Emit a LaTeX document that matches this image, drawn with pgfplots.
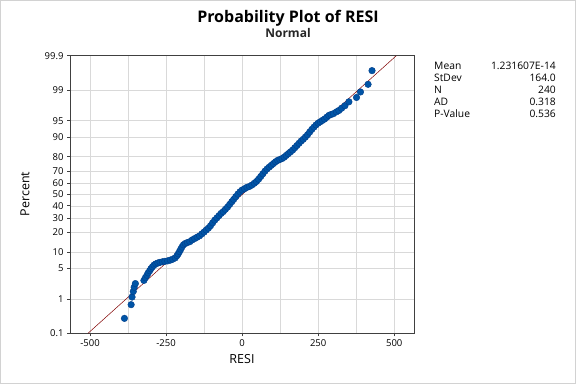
\documentclass[border=0pt]{standalone}
\usepackage{pgfplots}
\pgfplotsset{compat=1.18}
\usepackage{pgfplotstable}
\usepackage{fontspec}
\setmainfont{Open Sans}
\definecolor{ptblue}{RGB}{0,84,166}
\definecolor{ptedge}{RGB}{0,62,138}
\definecolor{fitred}{RGB}{128,0,0}
\definecolor{gridgray}{RGB}{217,217,217}
\definecolor{framegray}{RGB}{64,64,64}
\pgfplotstableread{
x z
-387 -2.758
-365 -2.453
-362 -2.283
-358 -2.160
-355 -2.064
-351 -1.983
-323 -1.913
-318 -1.852
-313 -1.797
-309 -1.745
-304 -1.697
-300 -1.653
-295 -1.611
-290 -1.572
-284 -1.545
-277 -1.525
-270 -1.510
-262 -1.498
-254 -1.488
-245 -1.478
-236 -1.460
-228 -1.440
-220 -1.410
-214 -1.360
-210 -1.320
-206 -1.270
-202 -1.220
-198 -1.170
-193 -1.120
-187 -1.090
-180 -1.070
-172 -1.050
-164 -1.010
-156 -0.980
-148 -0.950
-140 -0.920
-132 -0.875
-125 -0.835
-118 -0.790
-111 -0.750
-104 -0.695
-97 -0.630
-90 -0.570
-83 -0.520
-76 -0.470
-69 -0.420
-62 -0.380
-55 -0.330
-48 -0.280
-41 -0.220
-34 -0.160
-28 -0.110
-21 -0.050
-14 0.010
-7 0.060
0 0.100
8 0.130
16 0.160
24 0.180
32 0.210
40 0.250
47 0.290
54 0.340
61 0.400
68 0.460
75 0.520
82 0.570
89 0.610
96 0.650
103 0.690
110 0.730
117 0.760
124 0.780
131 0.800
138 0.830
145 0.870
152 0.910
159 0.950
166 0.990
173 1.040
180 1.090
187 1.140
194 1.190
201 1.230
208 1.280
215 1.330
222 1.390
229 1.450
236 1.500
243 1.550
250 1.590
257 1.620
264 1.650
271 1.680
278 1.720
285 1.760
292 1.780
300 1.800
310 1.840
318 1.870
327 1.920
338 1.977
351 2.064
376 2.160
389 2.283
414 2.453
427 2.758
}\resdata
\begin{document}
\begin{tikzpicture}[x=1pt,y=1pt]
\useasboundingbox (0pt,0pt) rectangle (576pt,384pt);
\draw[gray!35,line width=1pt] (0.5pt,0.5pt) rectangle (575.5pt,383.5pt);
\begin{axis}[
  at={(70pt,50.7pt)}, anchor=south west,
  scale only axis, width=344pt, height=277.6pt,
  xmin=-566, xmax=565, ymin=-3.0902, ymax=3.0902,
  xtick={-500,-250,0,250,500},
  minor xtick={-375,-125,125,375},
  ytick={-3.0902,-2.3263,-1.6449,-1.2816,-0.8416,-0.5244,-0.2533,0,0.2533,0.5244,0.8416,1.2816,1.6449,2.3263,3.0902},
  yticklabels={0.1,1,5,10,20,30,40,50,60,70,80,90,95,99,99.9},
  xticklabels={-500,-250,0,250,500},
  tick align=outside, tick pos=left,
  major tick length=3pt, minor tick length=0pt,
  grid=both, grid style={gridgray, line width=0.7pt},
  minor grid style={gridgray, line width=0.7pt},
  axis line style={framegray, line width=0.8pt},
  tick style={framegray, line width=0.8pt},
  ticklabel style={font=\fontsize{9.5}{11}\selectfont, text=black},
  /pgf/number format/assume math mode=true,
  clip=true,
]
\addplot[fitred, line width=0.5pt] coordinates {(-506.8,-3.0902) (506.8,3.0902)};
\addplot[only marks, mark=*, mark size=3.3pt, mark options={fill=ptblue, draw=ptedge, line width=0.4pt}] table[x=x,y=z] {\resdata};
\end{axis}
\node[font=\bfseries\fontsize{16}{18}\selectfont] at (288pt,366pt) {Probability Plot of RESI};
\node[font=\bfseries\fontsize{12}{14}\selectfont, text=black!85] at (288pt,351pt) {Normal};
\node[font=\fontsize{12.5}{14}\selectfont] at (242pt,25pt) {RESI};
\node[font=\fontsize{12.5}{14}\selectfont, rotate=90] at (25pt,190pt) {Percent};
\begin{scope}[every node/.style={font=\fontsize{10.3}{12}\selectfont, inner sep=0pt}]
\node[anchor=base west] at (434pt,315pt) {Mean};
\node[anchor=base west] at (434pt,303pt) {StDev};
\node[anchor=base west] at (434pt,291pt) {N};
\node[anchor=base west] at (434pt,279pt) {AD};
\node[anchor=base west] at (434pt,267pt) {P-Value};
\node[anchor=base east] at (556pt,315pt) {1.231607E-14};
\node[anchor=base east] at (556pt,303pt) {164.0};
\node[anchor=base east] at (556pt,291pt) {240};
\node[anchor=base east] at (556pt,279pt) {0.318};
\node[anchor=base east] at (556pt,267pt) {0.536};
\end{scope}
\end{tikzpicture}
\end{document}
